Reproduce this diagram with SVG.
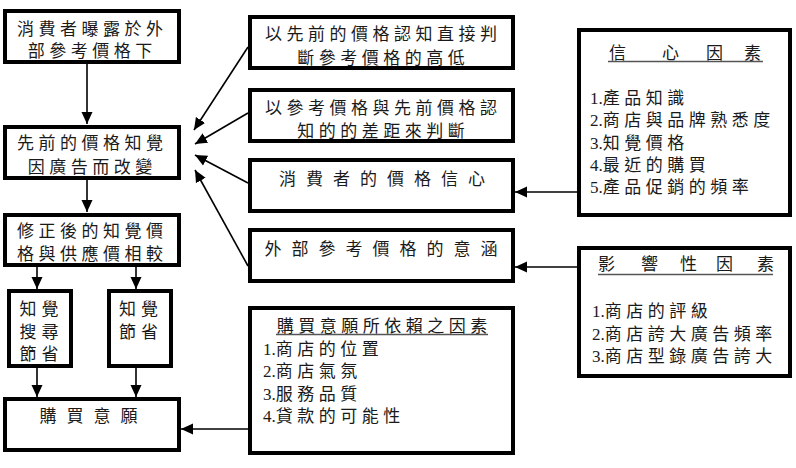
<svg xmlns="http://www.w3.org/2000/svg" width="796" height="468" viewBox="0 0 796 468">
<defs>
<style>
.box{fill:#fff;stroke:#000;stroke-width:4}
.t{font-family:"Liberation Serif","Noto Sans CJK TC",sans-serif;font-size:17px;fill:#1a1a1a}
.m{text-anchor:middle}
.s5{letter-spacing:4.5px}
.s6{letter-spacing:5px}
.s11{letter-spacing:10px}
.ln{stroke:#000;stroke-width:1.6;fill:none;marker-end:url(#ah)}
.ul{stroke:#555;stroke-width:1.3}
</style>
<marker id="ah" markerUnits="userSpaceOnUse" markerWidth="12" markerHeight="12" viewBox="0 0 12 12" refX="12" refY="6" orient="auto">
<path d="M0,0.5 L12,6 L0,11.5 Z" fill="#000"/>
</marker>
</defs>
<g id="connectors">
<line class="ln" x1="87" y1="64" x2="87" y2="124"/>
<line class="ln" x1="87" y1="180" x2="87" y2="212"/>
<line class="ln" x1="37" y1="267" x2="37" y2="289"/>
<line class="ln" x1="136" y1="267" x2="136" y2="289"/>
<line class="ln" x1="37" y1="368" x2="37" y2="397"/>
<line class="ln" x1="136" y1="368" x2="136" y2="397"/>
<line class="ln" x1="577" y1="192" x2="515" y2="192"/>
<line class="ln" x1="577" y1="267" x2="515" y2="267"/>
<line class="ln" x1="248" y1="429" x2="181" y2="429"/>
<line class="ln" x1="248" y1="47" x2="194" y2="130"/>
<line class="ln" x1="248" y1="113" x2="195" y2="144"/>
<line class="ln" x1="248" y1="183" x2="195" y2="155"/>
<line class="ln" x1="248" y1="266" x2="195" y2="170"/>
</g>
<g id="nodeA">
<rect class="box" x="5" y="11" width="174" height="51"/>
<text class="t m s5" x="92.25" y="34.5">消費者曝露於外</text>
<text class="t m s5" x="92.25" y="56.5">部參考價格下</text>
</g>
<g id="nodeB">
<rect class="box" x="5" y="127" width="174" height="51"/>
<text class="t m s5" x="92.25" y="148.5">先前的價格知覺</text>
<text class="t m s5" x="92.25" y="172.5">因廣告而改變</text>
</g>
<g id="nodeC">
<rect class="box" x="5" y="215" width="174" height="50"/>
<text class="t m s5" x="92.25" y="236.5">修正後的知覺價</text>
<text class="t m s5" x="92.25" y="259.5">格與供應價相較</text>
</g>
<g id="nodeD1">
<rect class="box" x="9" y="291" width="62" height="75"/>
<text class="t m s6" x="41.5" y="314.5">知覺</text>
<text class="t m s6" x="41.5" y="337.5">搜尋</text>
<text class="t m s6" x="41.5" y="359.5">節省</text>
</g>
<g id="nodeD2">
<rect class="box" x="109" y="291" width="62" height="75"/>
<text class="t m s6" x="141" y="314.5">知覺</text>
<text class="t m s6" x="141" y="337.5">節省</text>
</g>
<g id="nodeE">
<rect class="box" x="5" y="399" width="174" height="51"/>
<text class="t m s11" x="93.5" y="421.5">購買意願</text>
</g>
<g id="nodeF">
<rect class="box" x="250" y="17" width="263" height="51"/>
<text class="t m s5" x="383.25" y="39.5">以先前的價格認知直接判</text>
<text class="t m s5" x="383.25" y="63.5">斷參考價格的高低</text>
</g>
<g id="nodeG">
<rect class="box" x="250" y="90" width="263" height="51"/>
<text class="t m s5" x="383.25" y="113.5">以參考價格與先前價格認</text>
<text class="t m s5" x="383.25" y="136.5">知的的差距來判斷</text>
</g>
<g id="nodeH">
<rect class="box" x="250" y="160" width="263" height="51"/>
<text class="t m s11" x="387" y="184.5">消費者的價格信心</text>
</g>
<g id="nodeI">
<rect class="box" x="250" y="230" width="263" height="51"/>
<text class="t m s11" x="386" y="254.5">外部參考價格的意涵</text>
</g>
<g id="nodeJ">
<rect class="box" x="250" y="308" width="263" height="145"/>
<text class="t m s5" x="384.25" y="331.5">購買意願所依賴之因素</text>
<line class="ul" x1="276" y1="334.5" x2="488" y2="334.5"/>
<text class="t" x="263" y="354.5">1.<tspan class="s5">商店的位置</tspan></text>
<text class="t" x="263" y="376.5">2.<tspan class="s5">商店氣氛</tspan></text>
<text class="t" x="263" y="399.5">3.<tspan class="s5">服務品質</tspan></text>
<text class="t" x="263" y="421.5">4.<tspan class="s5">貸款的可能性</tspan></text>
</g>
<g id="nodeK">
<rect class="box" x="579" y="30" width="211" height="185"/>
<text class="t" x="609 662 706 744" y="58.5">信心因素</text>
<line class="ul" x1="608" y1="61.5" x2="763" y2="61.5"/>
<text class="t" x="590" y="104">1.<tspan class="s5">產品知識</tspan></text>
<text class="t" x="590" y="126">2.<tspan class="s5">商店與品牌熟悉度</tspan></text>
<text class="t" x="590" y="148.5">3.<tspan class="s5">知覺價格</tspan></text>
<text class="t" x="590" y="170.5">4.<tspan class="s5">最近的購買</tspan></text>
<text class="t" x="590" y="192.5">5.<tspan class="s5">產品促銷的頻率</tspan></text>
</g>
<g id="nodeL">
<rect class="box" x="579" y="248" width="211" height="128"/>
<text class="t" x="598 641 680 716 757" y="269.5">影響性因素</text>
<line class="ul" x1="598" y1="274.5" x2="773" y2="274.5"/>
<text class="t" x="592" y="316.5">1.<tspan class="s5">商店的評級</tspan></text>
<text class="t" x="592" y="339.5">2.<tspan class="s5">商店誇大廣告頻率</tspan></text>
<text class="t" x="592" y="361.5">3.<tspan class="s5">商店型錄廣告誇大</tspan></text>
</g>
</svg>
